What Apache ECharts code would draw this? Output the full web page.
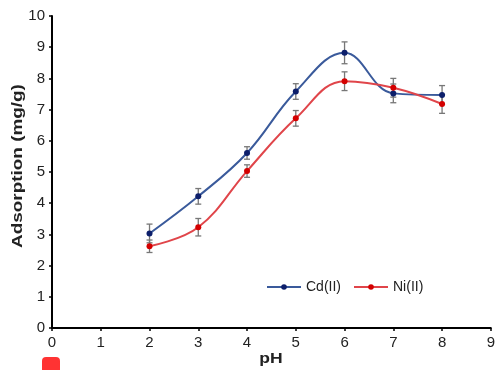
<!DOCTYPE html>
<html><head><meta charset="utf-8">
<script src="https://cdn.jsdelivr.net/npm/echarts@6/dist/echarts.min.js"></script>
<style>html,body{margin:0;padding:0;background:#fff}#c{width:498px;height:370px}</style>
</head><body><div id="c"></div>
<script>
const pH = [2, 3, 4, 5, 6, 7, 8];
const cd = [3.03, 4.22, 5.61, 7.58, 8.82, 7.52, 7.47];
const cdErr = [0.3, 0.25, 0.2, 0.25, 0.35, 0.3, 0.3];
const ni = [2.62, 3.23, 5.03, 6.72, 7.91, 7.70, 7.18];
const niErr = [0.2, 0.28, 0.2, 0.25, 0.3, 0.3, 0.3];
const xTicks = [0,1,2,3,4,5,6,7,8,9];
const yTicks = [0,1,2,3,4,5,6,7,8,9,10];
const yTitle = 'Adsorption (mg/g)';
const xTitle = 'pH';

function errSeries(vals, errs) {
  return {
    type: 'custom', silent: true, z: 3,
    data: pH.map((x, i) => [x, vals[i] - errs[i], vals[i] + errs[i]]),
    renderItem: function (params, api) {
      const lo = api.coord([api.value(0), api.value(1)]);
      const hi = api.coord([api.value(0), api.value(2)]);
      const w = 3;
      const st = { stroke: '#777', lineWidth: 1.3 };
      return { type: 'group', children: [
        { type: 'line', shape: { x1: lo[0], y1: lo[1], x2: hi[0], y2: hi[1] }, style: st },
        { type: 'line', shape: { x1: lo[0]-w, y1: lo[1], x2: lo[0]+w, y2: lo[1] }, style: st },
        { type: 'line', shape: { x1: hi[0]-w, y1: hi[1], x2: hi[0]+w, y2: hi[1] }, style: st }
      ]};
    }
  };
}

const chart = echarts.init(document.getElementById('c'));
const font = 'Liberation Sans, Arial, sans-serif';
chart.setOption({
  animation: false,
  textStyle: { fontFamily: font },
  grid: { left: 52, right: 5, top: 16, bottom: 42 },
  xAxis: {
    type: 'value', min: 0, max: 9, interval: 1,
    axisLine: { lineStyle: { color: '#000', width: 2 } },
    axisTick: { length: 3, lineStyle: { color: '#000', width: 1.5 } },
    axisLabel: { fontSize: 15, color: '#222', margin: 7, formatter: v => xTicks.includes(v) ? String(v) : '' },
    splitLine: { show: false }
  },
  yAxis: {
    type: 'value', min: 0, max: 10, interval: 1,
    axisLine: { show: true, lineStyle: { color: '#000', width: 2 } },
    axisTick: { show: true, length: 3, lineStyle: { color: '#000', width: 1.5 } },
    axisLabel: { fontSize: 15, color: '#222', margin: 7, formatter: v => yTicks.includes(v) ? String(v) : '' },
    splitLine: { show: false }
  },
  legend: {
    left: 261, top: 275, itemGap: 12, itemWidth: 34, itemHeight: 7,
    textStyle: { fontSize: 14, color: '#222', fontFamily: font },
    data: ['Cd(II)', 'Ni(II)']
  },
  series: [
    errSeries(cd, cdErr), errSeries(ni, niErr),
    { name: 'Cd(II)', type: 'line', smooth: 0.4, z: 4,
      data: pH.map((x, i) => [x, cd[i]]),
      symbol: 'circle', symbolSize: 6,
      itemStyle: { color: '#0d1f6b' }, lineStyle: { color: '#3a5a9b', width: 2 } },
    { name: 'Ni(II)', type: 'line', smooth: 0.4, z: 4,
      data: pH.map((x, i) => [x, ni[i]]),
      symbol: 'circle', symbolSize: 6,
      itemStyle: { color: '#d40000' }, lineStyle: { color: '#e0454a', width: 2 } }
  ],
  graphic: [
    { type: 'text', x: 18, y: 166, rotation: Math.PI / 2, scaleX: 1.35,
      style: { text: yTitle, font: 'bold 14px ' + font, fill: '#222', align: 'center', verticalAlign: 'middle' } },
    { type: 'text', x: 271, y: 359, scaleX: 1.25,
      style: { text: xTitle, font: 'bold 14px ' + font, fill: '#222', align: 'center', verticalAlign: 'middle' }, z: 5 },
    { type: 'rect', left: 42, top: 357, shape: { width: 18, height: 16, r: 4 }, style: { fill: '#ff3333' } }
  ]
});
</script></body></html>
